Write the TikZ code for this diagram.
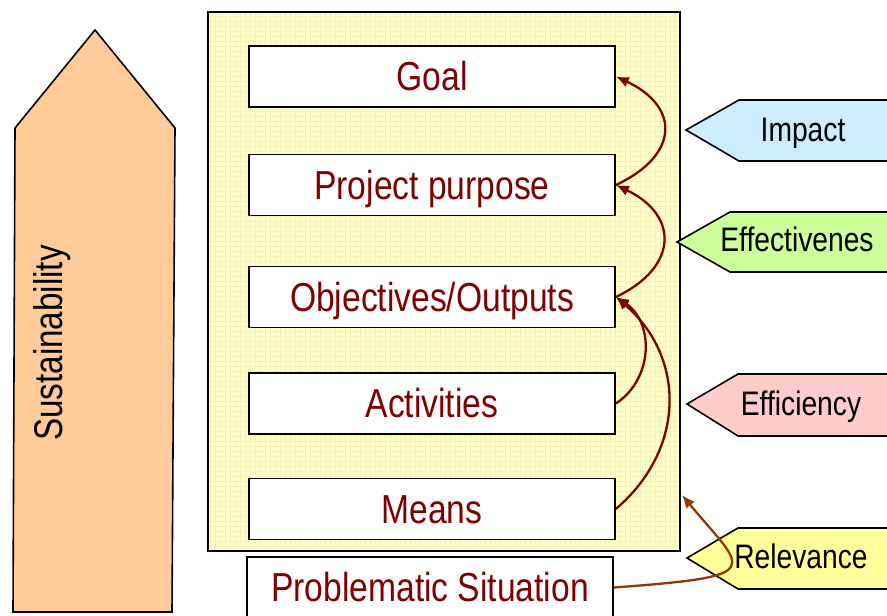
\documentclass[tikz,border=0pt]{standalone}
\usepackage{fontspec}
\setmainfont[FakeStretch=0.83]{Liberation Sans}
\usetikzlibrary{arrows.meta}
\definecolor{darkred}{HTML}{800000}
\definecolor{brownline}{HTML}{993300}
\definecolor{boxyellow}{HTML}{FFFFCC}
\definecolor{gridyellow}{HTML}{F6F2B4}
\definecolor{sustain}{HTML}{FFCC99}
\definecolor{impactblue}{HTML}{CCECFF}
\definecolor{effgreen}{HTML}{CCFF99}
\definecolor{effpink}{HTML}{FFCCCC}
\definecolor{relyellow}{HTML}{FFFF99}
\begin{document}
\begin{tikzpicture}[x=1pt,y=1pt,
  stepbox/.style={draw,line width=1.8pt,fill=white,minimum width=366pt,minimum height=61pt,
    inner sep=0pt,text=darkred,font=\fontsize{40.5}{44}\selectfont,text height=29pt,text depth=0pt},
  lbl/.style={font=\fontsize{34}{38}\selectfont,text height=24pt,text depth=0pt,inner sep=0pt},
  flagshape/.style={draw,line width=1.6pt,line join=miter},
  uparrow/.style={draw=darkred,line width=2.3pt,-{Latex[length=13pt,width=11pt]}}]
        \clip (0,0) rectangle (887,616);
        % sustainability arrow
        \draw[flagshape,fill=sustain] (13,4) -- (15,488) -- (95,586) -- (175,488) -- (172,4) -- cycle;
        \node[rotate=90,font=\fontsize{40}{44}\selectfont,inner sep=0pt,text height=29pt,text depth=0pt] (sust) at (48,273) {Sustainability};
        
        % yellow frame
        \fill[boxyellow] (208,65) rectangle (680,604);
        \draw[gridyellow,line width=0.3pt,step=5] (208,65) grid (680,604);
        \draw[line width=1.8pt] (208,65) rectangle (680,604);
        
        \node[stepbox] (goal) at (432,539.5) {Goal};
        \node[stepbox] (purpose) at (432,431) {Project purpose};
        \node[stepbox] (outputs) at (432,319) {Objectives/Outputs};
        \node[stepbox] (activities) at (432,212.5) {Activities};
        \node[stepbox] (means) at (432,107) {Means};
        \node[stepbox] (problem) at (430,28.5) {Problematic Situation};
        
        % criteria flags
        \draw[flagshape,fill=impactblue] (686,486) -- (739,516) -- (900,516) -- (900,455) -- (739,455) -- cycle;
        \node[lbl] (impact) at (803,486) {Impact};
        \draw[flagshape,fill=effgreen] (677,374) -- (730,404) -- (900,404) -- (900,344) -- (730,344) -- cycle;
        \node[lbl] (effect) at (797,376) {Effectivenes};
        \draw[flagshape,fill=effpink] (687,212) -- (738,242) -- (900,242) -- (900,180) -- (738,180) -- cycle;
        \node[lbl] (effic) at (801,212) {Efficiency};
        \draw[flagshape,fill=relyellow] (687,58) -- (738,88) -- (900,88) -- (900,27) -- (738,27) -- cycle;
        \node[lbl] (relev) at (801,59) {Relevance};
        
        %arrows between the levels
        \draw[uparrow] (purpose.east) .. controls +(64,30) and +(64,-30) .. (goal.east);
        \draw[uparrow] (outputs.east) .. controls +(63,30) and +(63,-30) .. (purpose.east);
        \draw[uparrow] (activities.east) .. controls +(38,25) and +(38,-25) .. (outputs.east);
        \draw[uparrow] (means.east) .. controls +(70,60) and +(70,-60) .. (outputs.east);
        
        \coordinate (reltip) at (682,121);
        \draw[brownline,line width=2.3pt,-{Latex[length=13pt,width=11pt]}] (problem.east) .. controls (770,40) and (745,45) .. (reltip);
\end{tikzpicture}
\end{document}
